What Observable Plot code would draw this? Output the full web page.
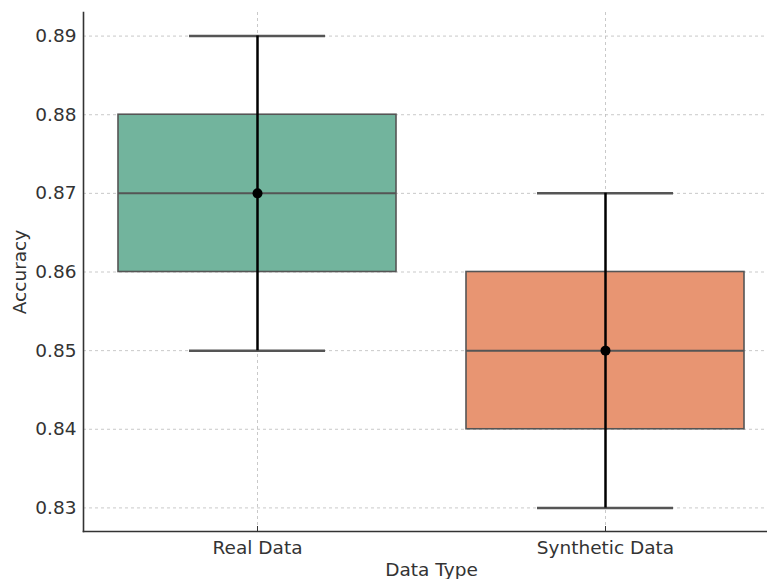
<!DOCTYPE html>
<html>
<head>
<meta charset="utf-8">
<script src="https://cdn.jsdelivr.net/npm/d3@7"></script>
<script src="https://cdn.jsdelivr.net/npm/@observablehq/plot@0.6"></script>
<style>
  html, body { margin: 0; padding: 0; background: #fff; }
  svg { display: block; }
</style>
</head>
<body>
<div id="chart"></div>
<script>
const categories = ["Real Data", "Synthetic Data"];
const q1 = [0.86, 0.84];
const median = [0.87, 0.85];
const q3 = [0.88, 0.86];
const whiskerLo = [0.85, 0.83];
const whiskerHi = [0.89, 0.87];
const mean = [0.87, 0.85];
const errLo = [0.85, 0.83];
const errHi = [0.89, 0.87];
const colors = ["#72b49d", "#e89572"];
const yTicks = [0.83, 0.84, 0.85, 0.86, 0.87, 0.88, 0.89];

const data = categories.map((c, i) => ({
  cat: c, q1: q1[i], median: median[i], q3: q3[i],
  lo: whiskerLo[i], hi: whiskerHi[i], mean: mean[i],
  errLo: errLo[i], errHi: errHi[i], color: colors[i]
}));

const W = 767, H = 579;
const mL = 83, mR = -12, mT = 12, mB = 48;
const bandwidth = (W - mL - mR) / 2 * 0.8;
const capInset = bandwidth * 0.255;

const chart = Plot.plot({
  width: W, height: H,
  marginLeft: mL, marginRight: mR, marginTop: mT, marginBottom: mB,
  style: { fontFamily: "DejaVu Sans", fontSize: "18.5px", color: "#333", background: "#fff" },
  x: { type: "band", domain: categories, paddingInner: 0.2, paddingOuter: 0.1, label: null },
  y: { domain: [0.827, 0.893], label: null },
  marks: [
    Plot.gridY(yTicks, { stroke: "#bbb", strokeOpacity: 1, strokeDasharray: "3,3", strokeWidth: 0.8 }),
    Plot.gridX(categories, { stroke: "#bbb", strokeOpacity: 1, strokeDasharray: "3,3", strokeWidth: 0.8 }),
    Plot.tickY(data, { x: "cat", y: "lo", stroke: "#555", strokeWidth: 2.5, insetLeft: capInset, insetRight: capInset }),
    Plot.tickY(data, { x: "cat", y: "hi", stroke: "#555", strokeWidth: 2.5, insetLeft: capInset, insetRight: capInset }),
    Plot.barY(data, { x: "cat", y1: "q1", y2: "q3", fill: "color", stroke: "#555", strokeWidth: 1.6 }),
    Plot.tickY(data, { x: "cat", y: "median", stroke: "#555", strokeWidth: 2 }),
    Plot.ruleX(data, { x: "cat", y1: "errLo", y2: "errHi", stroke: "#000", strokeWidth: 2.5 }),
    Plot.dot(data, { x: "cat", y: "mean", r: 5, fill: "#000", stroke: null }),
    Plot.axisY(yTicks, { tickSize: 0, tickPadding: 7, tickFormat: d3.format(".2f"), label: "Accuracy", labelAnchor: "center", labelArrow: "none", labelOffset: 71, fill: "#333", fontSize: 18.5 }),
    Plot.axisX({ tickSize: -5, tickPadding: 14, label: "Data Type", labelAnchor: "center", labelArrow: "none", labelOffset: 44, fill: "#333", fontSize: 18.5 }),
    Plot.frame({ anchor: "left", stroke: "#333", strokeWidth: 1.6 }),
    Plot.frame({ anchor: "bottom", stroke: "#333", strokeWidth: 1.6 })
  ]
});
document.getElementById("chart").append(chart);
</script>
</body>
</html>
